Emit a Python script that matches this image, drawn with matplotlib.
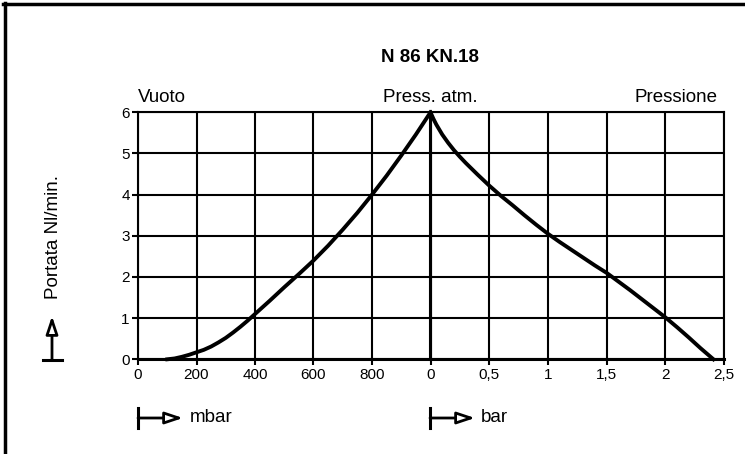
import matplotlib
matplotlib.use('Agg')
import matplotlib.pyplot as plt
from matplotlib.lines import Line2D
from matplotlib.patches import FancyArrowPatch

plt.rcParams['font.family'] = ['Liberation Sans', 'DejaVu Sans']

# vacuum side: absolute pressure (mbar) vs flow (Nl/min)
vac_mbar = [100, 125, 150, 175, 200, 225, 250, 275, 300, 325, 350, 375,
            400, 450, 500, 550, 600, 650, 700, 750, 800, 850, 900, 950, 1000]
vac_flow = [0.0, 0.02, 0.06, 0.11, 0.17, 0.23, 0.31, 0.41, 0.52, 0.65,
            0.79, 0.94, 1.1, 1.42, 1.75, 2.07, 2.4, 2.76, 3.15, 3.56,
            4.0, 4.46, 4.95, 5.46, 6.0]

# pressure side: relative pressure (bar) vs flow (Nl/min)
prs_bar = [0.0, 0.025, 0.05, 0.1, 0.15, 0.2, 0.25, 0.3, 0.4, 0.5, 0.6,
           0.7, 0.8, 0.9, 1.0, 1.1, 1.2, 1.3, 1.4, 1.5, 1.6, 1.7, 1.8,
           1.9, 2.0, 2.1, 2.2, 2.3, 2.41]
prs_flow = [6.0, 5.84, 5.7, 5.46, 5.26, 5.08, 4.92, 4.77, 4.49, 4.22,
            3.97, 3.74, 3.5, 3.27, 3.05, 2.85, 2.66, 2.47, 2.28, 2.1,
            1.89, 1.68, 1.46, 1.24, 1.02, 0.78, 0.53, 0.27, 0.0]

vac_ticks = [0, 200, 400, 600, 800]
vac_labels = ['0', '200', '400', '600', '800']
prs_ticks = [0, 0.5, 1, 1.5, 2, 2.5]
prs_labels = ['0', '0,5', '1', '1,5', '2', '2,5']
y_ticks = [0, 1, 2, 3, 4, 5, 6]

W, H = 745, 454
fig = plt.figure(figsize=(W / 100, H / 100), dpi=100)

x0, xm, x1 = 138, 430.5, 724
yb, yt = 359.3, 112.3
ax1 = fig.add_axes([x0 / W, 1 - yb / H, (xm - x0) / W, (yb - yt) / H])
ax2 = fig.add_axes([xm / W, 1 - yb / H, (x1 - xm) / W, (yb - yt) / H])

for ax in (ax1, ax2):
    ax.set_ylim(0, 6)
    ax.set_yticks(y_ticks)
    ax.grid(True, color='black', linewidth=1.5)
    ax.set_axisbelow(True)
    for s in ax.spines.values():
        s.set_linewidth(1.5)
    ax.spines['bottom'].set_linewidth(2.2)
    ax.tick_params(axis='both', direction='out', length=4, width=1.5,
                   labelsize=11, pad=2)

ax1.set_xlim(0, 1000)
ax1.set_xticks(vac_ticks)
ax1.set_xticklabels(vac_labels)
ax1.plot(vac_mbar, vac_flow, color='black', linewidth=2.8,
         solid_joinstyle='round', clip_on=False)

ax2.set_xlim(0, 2.5)
ax2.set_xticks(prs_ticks)
ax2.set_xticklabels(prs_labels)
ax2.tick_params(axis='y', left=False, labelleft=False)
ax2.plot(prs_bar, prs_flow, color='black', linewidth=2.8,
         solid_joinstyle='round', clip_on=False)

# texts
fig.text(430 / W, 1 - 57 / H, 'N 86 KN.18', ha='center', va='center',
         fontsize=13.5, fontweight='bold')
fig.text(x0 / W, 1 - 97 / H, 'Vuoto', ha='left', va='center', fontsize=13.5)
fig.text(xm / W, 1 - 97 / H, 'Press. atm.', ha='center', va='center', fontsize=13.5)
fig.text(717 / W, 1 - 97 / H, 'Pressione', ha='right', va='center', fontsize=13.5)
fig.text(53 / W, 1 - 237 / H, 'Portata Nl/min.', ha='center', va='center',
         rotation=90, fontsize=13.5)
fig.text(190 / W, 1 - 418 / H, 'mbar', ha='left', va='center', fontsize=13.5)
fig.text(481 / W, 1 - 418 / H, 'bar', ha='left', va='center', fontsize=13.5)


def fx(px):
    return px / W


def fy(py):
    return 1 - py / H


arrow_kw = dict(arrowstyle='-|>,head_length=0.9,head_width=0.3', fc='white',
                ec='black', lw=2.0, shrinkA=0, shrinkB=0)

# horizontal unit arrows
for xs in (138, 430):
    fig.add_artist(Line2D([fx(xs), fx(xs)], [fy(408), fy(428)], color='black', lw=2.2))
    fig.add_artist(FancyArrowPatch((fx(xs), fy(418)), (fx(xs + 45), fy(418)),
                                   transform=fig.transFigure, mutation_scale=12,
                                   **arrow_kw))

# vertical flow arrow
fig.add_artist(Line2D([fx(43), fx(62)], [fy(360), fy(360)], color='black', lw=2.2))
fig.add_artist(FancyArrowPatch((fx(52), fy(360)), (fx(52), fy(316)),
                               transform=fig.transFigure, mutation_scale=12,
                               **arrow_kw))

# frame (left and top edge)
fig.add_artist(Line2D([fx(5), fx(5)], [fy(3), 0], color='black', lw=2.5))
fig.add_artist(Line2D([fx(3.5), 1], [fy(4), fy(4)], color='black', lw=2.5))

fig.savefig('out.png', dpi=100)
